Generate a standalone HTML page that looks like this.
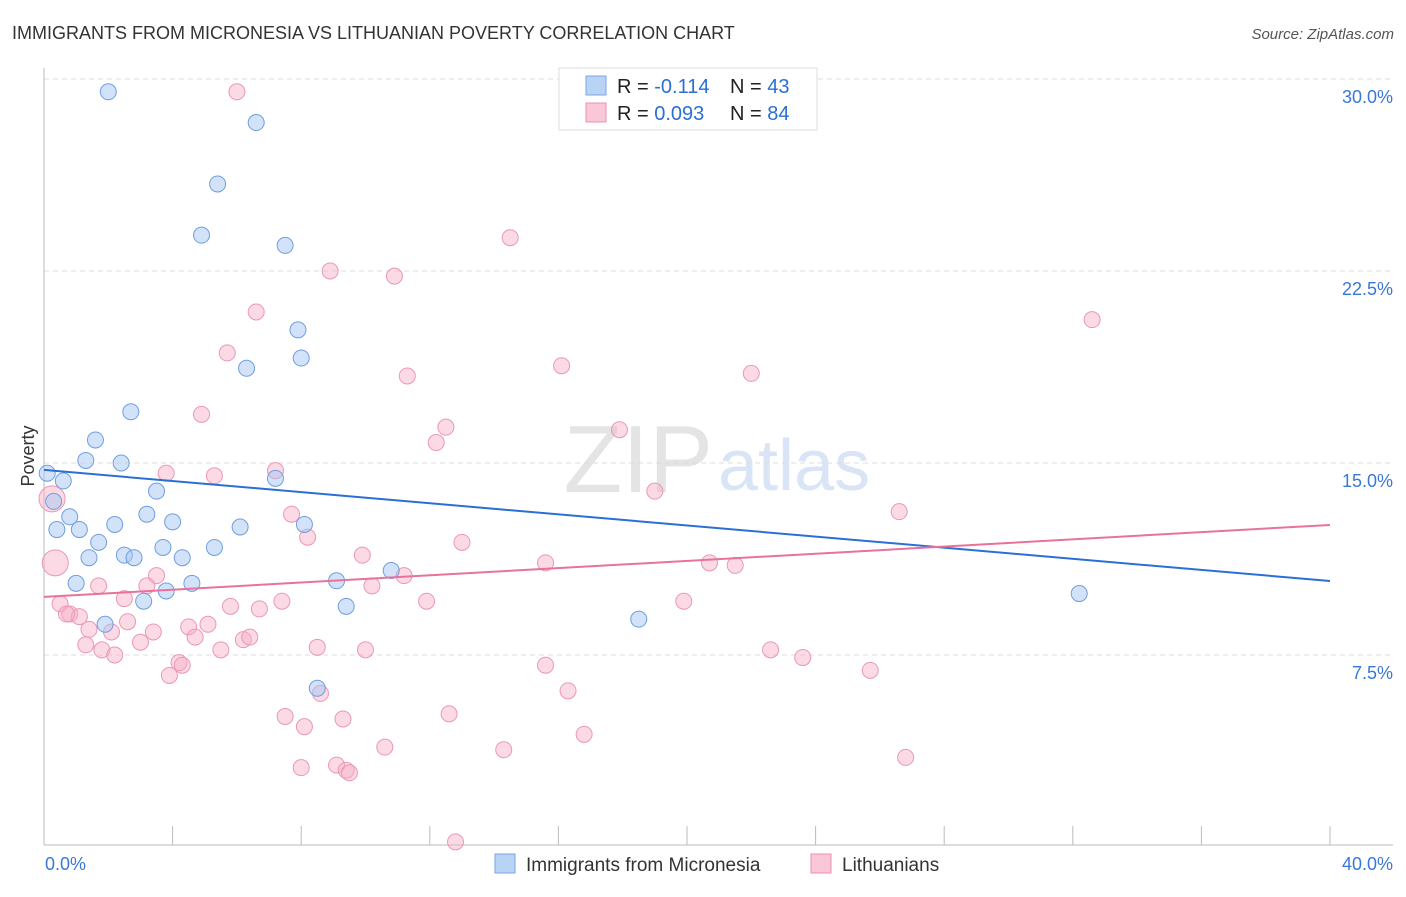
<!DOCTYPE html>
<html><head><meta charset="utf-8"><style>
body{margin:0;background:#fff;font-family:"Liberation Sans",sans-serif;}
svg text{font-family:"Liberation Sans",sans-serif;}
</style></head><body>
<svg id="chart" width="1406" height="892" xmlns="http://www.w3.org/2000/svg">
<text x="12" y="39" font-size="18" fill="#333">IMMIGRANTS FROM MICRONESIA VS LITHUANIAN POVERTY CORRELATION CHART</text>
<text x="1394" y="39" font-size="15" fill="#555" text-anchor="end" font-style="italic">Source: ZipAtlas.com</text>
<g>
<text x="713" y="492" font-size="96" fill="#e4e4e4" text-anchor="end" font-family="Liberation Serif">ZIP</text>
<text x="718" y="490" font-size="72" fill="#d9e5f6">atlas</text>
</g>
<g id="grid"></g>
<g id="axes"></g>
<g id="points"></g>
<g id="lines"></g>
<g>
<rect x="559" y="68" width="258" height="62" fill="#fff" stroke="#ddd"/>
<rect x="586" y="76" width="20" height="19" fill="#b9d3f5" stroke="#7aa5e0"/>
<text x="617" y="93" font-size="20" fill="#222">R = <tspan fill="#2a6fd6">-0.114</tspan></text>
<text x="730" y="93" font-size="20" fill="#222">N = <tspan fill="#2a6fd6">43</tspan></text>
<rect x="586" y="103" width="20" height="19" fill="#f9c7d6" stroke="#e890b0"/>
<text x="617" y="120" font-size="20" fill="#222">R = <tspan fill="#2a6fd6">0.093</tspan></text>
<text x="730" y="120" font-size="20" fill="#222">N = <tspan fill="#2a6fd6">84</tspan></text>
</g>
<g>
<rect x="495" y="854" width="20" height="19" fill="#b9d3f5" stroke="#7aa5e0"/>
<text x="526" y="871" font-size="19" fill="#333">Immigrants from Micronesia</text>
<rect x="811" y="854" width="20" height="19" fill="#f9c7d6" stroke="#e890b0"/>
<text x="842" y="871" font-size="19" fill="#333">Lithuanians</text>
</g>
</svg>
<script>
const yTicks=[7.5,15,22.5,30];
const yTickLabels=["7.5%","15.0%","22.5%","30.0%"];
const xTicks=[0,4,8,12,16,20,24,28,32,36,40];
const xEndLabels=["0.0%","40.0%"];
const blueX=[2.0,6.6,5.4,4.9,7.5,7.9,8.0,6.3,2.7,1.6,1.3,2.4,0.1,0.6,7.2,0.3,3.5,3.2,0.8,0.4,1.1,2.2,4.0,6.1,8.1,1.7,5.3,3.7,2.5,1.4,2.8,4.3,10.8,1.0,4.6,3.8,9.1,3.1,9.4,1.9,18.5,32.2,8.5];
const blueY=[29.5,28.3,25.9,23.9,23.5,20.2,19.1,18.7,17.0,15.9,15.1,15.0,14.6,14.3,14.4,13.5,13.9,13.0,12.9,12.4,12.4,12.6,12.7,12.5,12.6,11.9,11.7,11.7,11.4,11.3,11.3,11.3,10.8,10.3,10.3,10.0,10.4,9.6,9.4,8.7,8.9,9.9,6.2];
const pinkX=[6.0,14.5,8.9,10.9,32.6,6.6,5.7,16.1,11.3,22.0,4.9,12.5,12.2,17.9,3.8,5.3,7.2,19.0,0.25,26.6,7.7,8.2,13.0,9.9,0.35,15.6,20.7,21.5,3.5,11.2,1.7,3.2,10.2,0.5,2.5,7.4,6.7,5.8,11.9,19.9,0.8,1.1,0.7,1.4,2.1,2.6,3.4,4.5,5.1,4.7,6.2,6.4,1.3,1.8,3.0,2.2,5.5,8.5,10.0,4.2,4.3,3.9,15.6,22.6,23.6,25.7,16.3,8.6,7.5,9.3,12.6,8.1,16.8,10.6,14.3,26.8,8.0,9.1,9.4,9.5,12.8];
const pinkY=[29.5,23.8,22.5,22.3,20.6,20.9,19.3,18.8,18.4,18.5,16.9,16.4,15.8,16.3,14.6,14.5,14.7,13.9,13.6,13.1,13.0,12.1,11.9,11.4,11.1,11.1,11.1,11.0,10.6,10.6,10.2,10.2,10.2,9.5,9.7,9.6,9.3,9.4,9.6,9.6,9.1,9.0,9.1,8.5,8.4,8.8,8.4,8.6,8.7,8.2,8.1,8.2,7.9,7.7,8.0,7.5,7.7,7.8,7.7,7.2,7.1,6.7,7.1,7.7,7.4,6.9,6.1,6.0,5.1,5.0,5.2,4.7,4.4,3.9,3.8,3.5,3.1,3.2,3.0,2.9,0.2];
const pinkBig=[18,24];
const blueTrend=[14.73,10.39];
const pinkTrend=[9.77,12.58];
const NS="http://www.w3.org/2000/svg";
function sx(v){return 44+v/40*1286;}
function sy(v){return 847-v*25.6;}
function mk(tag,attrs,parent){const e=document.createElementNS(NS,tag);for(const k in attrs)e.setAttribute(k,attrs[k]);parent.appendChild(e);return e;}
const grid=document.getElementById('grid'),axes=document.getElementById('axes'),pts=document.getElementById('points'),lines=document.getElementById('lines');
yTicks.forEach((t,i)=>{
 const l=mk('line',{x1:44,x2:1393,y1:sy(t),y2:sy(t),stroke:'#ddd','stroke-dasharray':'5,4'},grid);
 
 
 const tx=mk('text',{x:1393,y:sy(t)+24,'font-size':18,fill:'#3a78d8','text-anchor':'end'},axes);
 tx.textContent=yTickLabels[i];
 
 
});
const ax=mk('line',{x1:44,x2:44,y1:68,y2:845,stroke:'#bbb'},axes);


const bx=mk('line',{x1:44,x2:1393,y1:845,y2:845,stroke:'#bbb'},axes);


xTicks.forEach(t=>{
 const l=mk('line',{x1:sx(t),x2:sx(t),y1:826,y2:845,stroke:'#bbb'},axes);
 
 
});
const xl0=mk('text',{x:45,y:870,'font-size':18,fill:'#3a78d8'},axes);xl0.textContent=xEndLabels[0];


const xl1=mk('text',{x:1393,y:870,'font-size':18,fill:'#3a78d8','text-anchor':'end'},axes);xl1.textContent=xEndLabels[1];


const yt=mk('text',{x:34,y:456,'font-size':18,fill:'#333','text-anchor':'middle',transform:'rotate(-90 34 456)'},axes);yt.textContent='Poverty';


pinkX.forEach((x,i)=>{
 const big=pinkBig.includes(i);
 const c=mk('circle',{cx:sx(x),cy:sy(pinkY[i]),r:big?13:8,fill:'rgba(246,172,198,0.45)',stroke:'#eb97b5','stroke-width':1},pts);
 
 
});
blueX.forEach((x,i)=>{
 const c=mk('circle',{cx:sx(x),cy:sy(blueY[i]),r:8,fill:'rgba(165,198,242,0.5)',stroke:'#6f9ee0','stroke-width':1},pts);
 
 
});
const bl=mk('line',{x1:sx(0),y1:sy(blueTrend[0]),x2:sx(40),y2:sy(blueTrend[1]),stroke:'#2a6fd6','stroke-width':2},lines);


const pl=mk('line',{x1:sx(0),y1:sy(pinkTrend[0]),x2:sx(40),y2:sy(pinkTrend[1]),stroke:'#e8729a','stroke-width':2},lines);


</script>
</body></html>
